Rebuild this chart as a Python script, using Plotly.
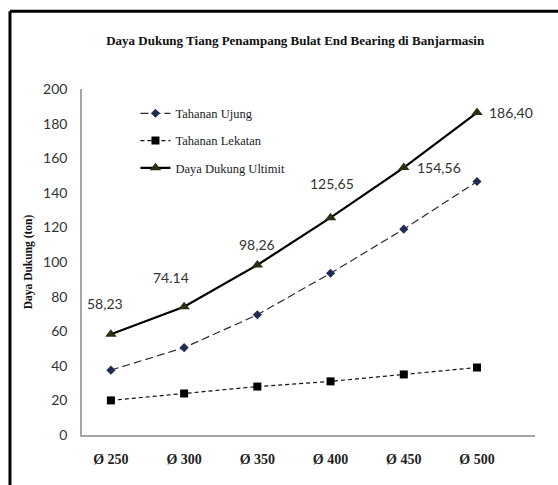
import plotly.graph_objects as go

categories = ["Ø 250", "Ø 300", "Ø 350", "Ø 400", "Ø 450", "Ø 500"]
tahanan_ujung = [37.5, 50.5, 69.5, 93.5, 119.0, 146.5]
tahanan_lekatan = [20.0, 24.0, 28.0, 31.0, 35.0, 39.0]
daya_dukung_ultimit = [58.23, 74.14, 98.26, 125.65, 154.56, 186.40]
ultimit_labels = ["58,23", "74.14", "98,26", "125,65", "154,56", "186,40"]
y_ticks = [0, 20, 40, 60, 80, 100, 120, 140, 160, 180, 200]

serif = "Liberation Serif"
sans = "Lato"

fig = go.Figure()
fig.add_trace(go.Scatter(
    x=categories, y=tahanan_ujung, name="Tahanan Ujung", legendgroup="a",
    mode="lines+markers",
    line=dict(color="#2a2a3a", width=1.2, dash="8px,4px"),
    marker=dict(symbol="diamond", size=7, color="#1f2d52"),
))
fig.add_trace(go.Scatter(
    x=categories, y=tahanan_lekatan, name="Tahanan Lekatan", legendgroup="b",
    mode="lines+markers",
    line=dict(color="#111111", width=1.2, dash="4px,3px"),
    marker=dict(symbol="square", size=8, color="#000000"),
))
fig.add_trace(go.Scatter(
    x=categories, y=daya_dukung_ultimit, name="Daya Dukung Ultimit", legendgroup="c",
    mode="lines+markers",
    line=dict(color="#000000", width=2.2),
    marker=dict(symbol="triangle-up", size=10, color="#2e2e14"),
))

# data labels for the ultimate series
shifts = [(-6, 31), (-13, 29), (0, 21), (1, 34), (35, 0), (34, 0)]
for cat, val, lab, (dx, dy) in zip(categories, daya_dukung_ultimit, ultimit_labels, shifts):
    fig.add_annotation(x=cat, y=val, text=lab, showarrow=False,
                       xshift=dx, yshift=dy,
                       font=dict(family=sans, size=14, color="#333333"))

# outer black frame (top and left edges visible)
fig.add_shape(type="line", xref="paper", yref="paper",
              x0=-0.159, x1=1.06, y0=1.225, y1=1.225,
              line=dict(color="black", width=3))
fig.add_shape(type="line", xref="paper", yref="paper",
              x0=-0.159, x1=-0.159, y0=1.225, y1=-0.3,
              line=dict(color="black", width=3))

fig.update_layout(
    width=558, height=485,
    margin=dict(l=82, r=23, t=89, b=50),
    paper_bgcolor="white", plot_bgcolor="white",
    showlegend=True,
    title=dict(text="<b>Daya Dukung Tiang Penampang Bulat End Bearing di Banjarmasin</b>",
               x=0.529, xanchor="center", y=1 - 40 / 485, yanchor="middle",
               font=dict(family=serif, size=13, color="#111111")),
    legend=dict(x=0.118, y=0.972, xanchor="left", yanchor="top",
                bgcolor="rgba(0,0,0,0)", tracegroupgap=8,
                traceorder="grouped",
                font=dict(family=serif, size=12.5, color="#222222")),
    xaxis=dict(type="category", showgrid=False, zeroline=False,
               showline=True, linecolor="#a6a6a6", linewidth=1.5,
               ticks="", ticklabelstandoff=10,
               tickfont=dict(family=serif, size=14, color="#222222", weight="bold"),
               fixedrange=True),
    yaxis=dict(range=[0, 200], tickvals=y_ticks, showgrid=False, zeroline=False,
               showline=True, linecolor="#a6a6a6", linewidth=1.5,
               ticks="", ticklabelstandoff=10,
               tickfont=dict(family=sans, size=14, color="#333333"),
               title=dict(text="<b>Daya Dukung (ton)</b>", standoff=8,
                          font=dict(family=serif, size=11.5, color="#111111")),
               fixedrange=True),
)

fig.write_html(
    "out.html",
    config={"displayModeBar": False},
    post_script=(
        "document.body.style.margin='0';"
        "document.body.style.overflow='hidden';"
        "document.documentElement.style.overflow='hidden';"
    ),
)
